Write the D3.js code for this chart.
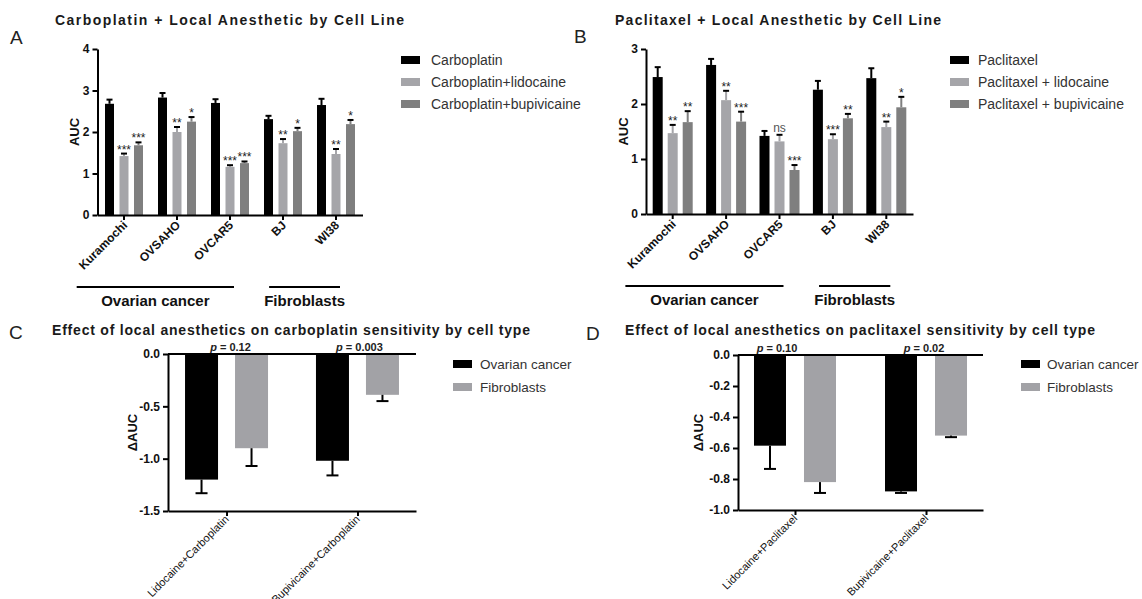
<!DOCTYPE html>
<html>
<head>
<meta charset="utf-8">
<script src="https://cdn.jsdelivr.net/npm/d3@7"></script>
<style>
body { margin: 0; background: #fff; }
svg { font-family: "Liberation Sans", Arial, sans-serif; }
</style>
</head>
<body>
<svg id="fig" width="1142" height="599"></svg>
<script>
/******************************
*            DATA             *
******************************/
const cellLines = ["Kuramochi", "OVSAHO", "OVCAR5", "BJ", "WI38"];
const cellTypes = ["Ovarian cancer", "Fibroblasts"];
const cellLineType = [0, 0, 0, 1, 1];

// panel A - carboplatin
const carboSeries = ["Carboplatin", "Carboplatin+lidocaine", "Carboplatin+bupivicaine"];
const carboMean = [[2.68, 1.42, 1.68], [2.83, 2.00, 2.25], [2.70, 1.16, 1.25], [2.31, 1.73, 2.02], [2.65, 1.47, 2.19]];
const carboErr  = [[0.10, 0.06, 0.07], [0.11, 0.12, 0.11], [0.09, 0.04, 0.04], [0.08, 0.10, 0.08], [0.15, 0.12, 0.10]];
const carboSig  = [["", "***", "***"], ["", "**", "*"], ["", "***", "***"], ["", "**", "*"], ["", "**", "*"]];

// panel B - paclitaxel
const paxSeries = ["Paclitaxel", "Paclitaxel + lidocaine", "Paclitaxel + bupivicaine"];
const paxMean = [[2.49, 1.47, 1.67], [2.71, 2.07, 1.68], [1.42, 1.32, 0.80], [2.26, 1.36, 1.74], [2.47, 1.58, 1.94]];
const paxErr  = [[0.18, 0.15, 0.20], [0.11, 0.17, 0.18], [0.09, 0.12, 0.09], [0.16, 0.09, 0.08], [0.18, 0.10, 0.19]];
const paxSig  = [["", "**", "**"], ["", "**", "***"], ["", "ns", "***"], ["", "***", "**"], ["", "**", "*"]];

// panel C - delta AUC carboplatin
const carboCombos = ["Lidocaine+Carboplatin", "Bupivicaine+Carboplatin"];
const carboDelta = [[-1.20, -0.90], [-1.02, -0.39]];
const carboDeltaErr = [[0.13, 0.17], [0.14, 0.06]];
const carboP = ["0.12", "0.003"];

// panel D - delta AUC paclitaxel
const paxCombos = ["Lidocaine+Paclitaxel", "Bupivicaine+Paclitaxel"];
const paxDelta = [[-0.585, -0.82], [-0.88, -0.52]];
const paxDeltaErr = [[0.15, 0.07], [0.01, 0.01]];
const paxP = ["0.10", "0.02"];

const barColors = ["#000000", "#a5a5a9", "#7f7f7f"];
const typeColors = ["#000000", "#a2a2a6"];

var svg = d3.select("#fig");

function axisStyle(sel) {
	sel.select(".domain").attr("stroke", "#000").attr("stroke-width", 2);
	sel.selectAll(".tick line").attr("stroke", "#000").attr("stroke-width", 2);
	sel.selectAll(".tick text").attr("fill", "#111").attr("font-weight", "bold").attr("font-size", 12);
}

function header(c) {
	svg.append("text")
		.attr("x", c.titleX).attr("y", c.titleY)
		.attr("textLength", c.titleW).attr("lengthAdjust", "spacing")
		.attr("font-size", 14).attr("font-weight", "bold").attr("fill", "#1a1a1a")
		.text(c.title);
	svg.append("text")
		.attr("x", c.letterX).attr("y", c.letterY)
		.attr("font-size", 19).attr("fill", "#222")
		.text(c.letter);
}

function legend(c, names, colors) {
	var lg = svg.append("g");
	names.forEach((n, i) => {
		lg.append("rect")
			.attr("x", c.legX).attr("y", c.legY + i * c.legStep - 4)
			.attr("width", 19).attr("height", 8)
			.attr("fill", colors[i]);
		lg.append("text")
			.attr("x", c.legX + c.legDx).attr("y", c.legY + i * c.legStep + 5)
			.attr("font-size", c.legFont).attr("fill", "#333")
			.text(n);
	});
}

/******************************
*     GROUPED BAR PANELS      *
******************************/
function drawGrouped(c) {
	header(c);
	var g = svg.append("g");

	var x0 = d3.scaleBand().domain(cellLines).range([c.left, c.right]);
	var x1 = d3.scaleBand().domain(d3.range(3)).range([-1.5 * c.step, 1.5 * c.step]);
	var y = d3.scaleLinear().domain([0, c.yMax]).range([c.bottom, c.top]);
	var cx = (d) => x0(d) + x0.bandwidth() / 2;

	var rows = [];
	cellLines.forEach((cl, i) => {
		c.mean[i].forEach((m, j) => {
			rows.push({ cl: cl, s: j, m: m, e: c.err[i][j], sig: c.sig[i][j],
				x: cx(cl) + x1(j) + x1.bandwidth() / 2 });
		});
	});

	// bars
	g.selectAll("rect.bar").data(rows).enter()
		.append("rect").attr("class", "bar")
			.attr("x", (d) => d.x - c.barW / 2)
			.attr("y", (d) => y(d.m))
			.attr("width", c.barW)
			.attr("height", (d) => y(0) - y(d.m))
			.attr("fill", (d) => barColors[d.s]);

	// error bars
	g.selectAll("line.err").data(rows).enter()
		.append("line").attr("class", "err")
			.attr("x1", (d) => d.x).attr("x2", (d) => d.x)
			.attr("y1", (d) => y(d.m)).attr("y2", (d) => y(d.m + d.e))
			.attr("stroke", (d) => barColors[d.s]).attr("stroke-width", 2);
	g.selectAll("line.cap").data(rows).enter()
		.append("line").attr("class", "cap")
			.attr("x1", (d) => d.x - 3).attr("x2", (d) => d.x + 3)
			.attr("y1", (d) => y(d.m + d.e)).attr("y2", (d) => y(d.m + d.e))
			.attr("stroke", "#000").attr("stroke-width", 2);

	// significance
	g.selectAll("text.sig").data(rows.filter((d) => d.sig)).enter()
		.append("text").attr("class", "sig")
			.attr("x", (d) => d.x)
			.attr("y", (d) => y(d.m + d.e) - (d.sig === "ns" ? 3 : 0))
			.attr("text-anchor", "middle")
			.attr("font-size", 12)
			.attr("fill", (d) => d.sig === "ns" ? "#555" : "#222")
			.text((d) => d.sig);

	// axes
	var yAxis = g.append("g")
		.attr("transform", "translate(" + c.left + ",0)")
		.call(d3.axisLeft(y).ticks(c.yMax).tickFormat(d3.format("d")).tickSize(5).tickSizeOuter(0));
	axisStyle(yAxis);

	var xAxis = g.append("g")
		.attr("transform", "translate(0," + c.bottom + ")")
		.call(d3.axisBottom(x0).tickSize(5).tickSizeOuter(0).tickFormat(""));
	axisStyle(xAxis);

	// rotated cell line labels
	var labels = g.selectAll("text.cat").data(cellLines).enter()
		.append("text").attr("class", "cat")
			.attr("transform", (d) => "translate(" + (cx(d) + 4) + "," + (c.bottom + 11) + ") rotate(-45)")
			.attr("text-anchor", "end")
			.attr("font-size", 12).attr("font-weight", "bold").attr("fill", "#111")
			.text((d) => d);
	var lens = labels.nodes().map((n) => n.getComputedTextLength());

	// y label
	g.append("text")
		.attr("transform", "translate(" + c.yLabX + "," + ((c.top + c.bottom) / 2) + ") rotate(-90)")
		.attr("text-anchor", "middle")
		.attr("font-size", 13).attr("font-weight", "bold").attr("fill", "#111")
		.text("AUC");

	// cell type brackets
	cellTypes.forEach((t, k) => {
		var idx = d3.range(cellLines.length).filter((i) => cellLineType[i] === k);
		var x1p = d3.min(idx, (i) => cx(cellLines[i]) - lens[i] * 0.707) - 3;
		var x2p = d3.max(idx, (i) => cx(cellLines[i])) + 4;
		g.append("line")
			.attr("x1", x1p).attr("x2", x2p)
			.attr("y1", c.bracketY).attr("y2", c.bracketY)
			.attr("stroke", "#000").attr("stroke-width", 2);
		g.append("text")
			.attr("x", (x1p + x2p) / 2).attr("y", c.bracketY + 19)
			.attr("text-anchor", "middle")
			.attr("font-size", 15).attr("font-weight", "bold").attr("fill", "#111")
			.text(t);
	});

	legend(c, c.series, barColors);
}

/******************************
*       DELTA AUC PANELS      *
******************************/
function drawDelta(c) {
	header(c);
	var g = svg.append("g");

	var x0 = d3.scalePoint().domain(c.combos).range([c.left, c.right]).padding(c.pad);
	var x1 = d3.scalePoint().domain(d3.range(cellTypes.length)).range([-25, 25]);
	var y = d3.scaleLinear().domain([c.yMin, 0]).range([c.bottom, c.top]);

	var rows = [];
	c.combos.forEach((cb, i) => {
		c.delta[i].forEach((m, j) => {
			rows.push({ s: j, m: m, e: c.err[i][j], x: x0(cb) + x1(j) });
		});
	});

	g.selectAll("rect.bar").data(rows).enter()
		.append("rect").attr("class", "bar")
			.attr("x", (d) => d.x - c.barW / 2)
			.attr("y", y(0))
			.attr("width", c.barW)
			.attr("height", (d) => y(d.m) - y(0))
			.attr("fill", (d) => typeColors[d.s]);

	g.selectAll("line.err").data(rows).enter()
		.append("line").attr("class", "err")
			.attr("x1", (d) => d.x).attr("x2", (d) => d.x)
			.attr("y1", (d) => y(d.m)).attr("y2", (d) => y(d.m - d.e))
			.attr("stroke", "#000").attr("stroke-width", 2);
	g.selectAll("line.cap").data(rows).enter()
		.append("line").attr("class", "cap")
			.attr("x1", (d) => d.x - 6).attr("x2", (d) => d.x + 6)
			.attr("y1", (d) => y(d.m - d.e)).attr("y2", (d) => y(d.m - d.e))
			.attr("stroke", "#000").attr("stroke-width", 2);

	// axes
	var yAxis = g.append("g")
		.attr("transform", "translate(" + c.left + ",0)")
		.call(d3.axisLeft(y)
			.tickValues(d3.range(Math.round(c.yMin / c.yStep), 1).map((k) => k * c.yStep))
			.tickFormat((d) => d.toFixed(1))
			.tickSize(5).tickSizeOuter(0));
	axisStyle(yAxis);

	var xAxis = g.append("g")
		.attr("transform", "translate(0," + c.bottom + ")")
		.call(d3.axisBottom(x0).tickSize(5).tickSizeOuter(0).tickFormat(""));
	axisStyle(xAxis);

	// zero line
	g.append("line")
		.attr("x1", c.left).attr("x2", c.right)
		.attr("y1", y(0)).attr("y2", y(0))
		.attr("stroke", "#000").attr("stroke-width", 2);

	g.selectAll("text.cat").data(c.combos).enter()
		.append("text").attr("class", "cat")
			.attr("transform", (d) => "translate(" + (x0(d) + 3) + "," + (c.bottom + 9) + ") rotate(-45)")
			.attr("text-anchor", "end")
			.attr("font-size", 11).attr("fill", "#111")
			.text((d) => d);

	// p values
	c.combos.forEach((cb, i) => {
		var t = g.append("text")
			.attr("x", x0(cb) + c.pDx[i]).attr("y", y(0) - 3)
			.attr("text-anchor", "middle")
			.attr("font-size", 11).attr("font-weight", "bold").attr("fill", "#222");
		t.append("tspan").attr("font-style", "italic").text("p");
		t.append("tspan").text(" = " + c.p[i]);
	});

	g.append("text")
		.attr("transform", "translate(" + c.yLabX + "," + ((c.top + c.bottom) / 2) + ") rotate(-90)")
		.attr("text-anchor", "middle")
		.attr("font-size", 13).attr("font-weight", "bold").attr("fill", "#111")
		.text("\u0394AUC");

	legend(c, cellTypes, typeColors);
}

drawGrouped({
	title: "Carboplatin + Local Anesthetic by Cell Line", titleX: 55, titleY: 25, titleW: 349,
	letter: "A", letterX: 10, letterY: 44,
	left: 97.5, right: 362.5, top: 49, bottom: 215, yMax: 4,
	step: 14.5, barW: 9, yLabX: 79, bracketY: 287,
	mean: carboMean, err: carboErr, sig: carboSig, series: carboSeries,
	legX: 401, legY: 60, legStep: 22, legDx: 30, legFont: 14
});

drawGrouped({
	title: "Paclitaxel + Local Anesthetic by Cell Line", titleX: 615, titleY: 25, titleW: 326,
	letter: "B", letterX: 574, letterY: 43,
	left: 646, right: 913, top: 49, bottom: 214, yMax: 3,
	step: 15, barW: 10, yLabX: 628, bracketY: 286,
	mean: paxMean, err: paxErr, sig: paxSig, series: paxSeries,
	legX: 950, legY: 60, legStep: 22, legDx: 28, legFont: 14
});

drawDelta({
	title: "Effect of local anesthetics on carboplatin sensitivity by cell type", titleX: 52, titleY: 335, titleW: 478,
	letter: "C", letterX: 9, letterY: 339,
	left: 168, right: 416, top: 354, bottom: 511, yMin: -1.5, yStep: 0.5, pad: 0.447,
	barW: 33, yLabX: 137, combos: carboCombos, delta: carboDelta, err: carboDeltaErr,
	p: carboP, pDx: [4, 2],
	legX: 453, legY: 364, legStep: 23, legDx: 27, legFont: 13.5
});

drawDelta({
	title: "Effect of local anesthetics on paclitaxel sensitivity by cell type", titleX: 625, titleY: 335, titleW: 470,
	letter: "D", letterX: 586, letterY: 340,
	left: 738, right: 983, top: 355, bottom: 510, yMin: -1.0, yStep: 0.2, pad: 0.435,
	barW: 32, yLabX: 703, combos: paxCombos, delta: paxDelta, err: paxDeltaErr,
	p: paxP, pDx: [-18, -2],
	legX: 1021, legY: 364, legStep: 23, legDx: 26, legFont: 13.5
});
</script>
</body>
</html>
